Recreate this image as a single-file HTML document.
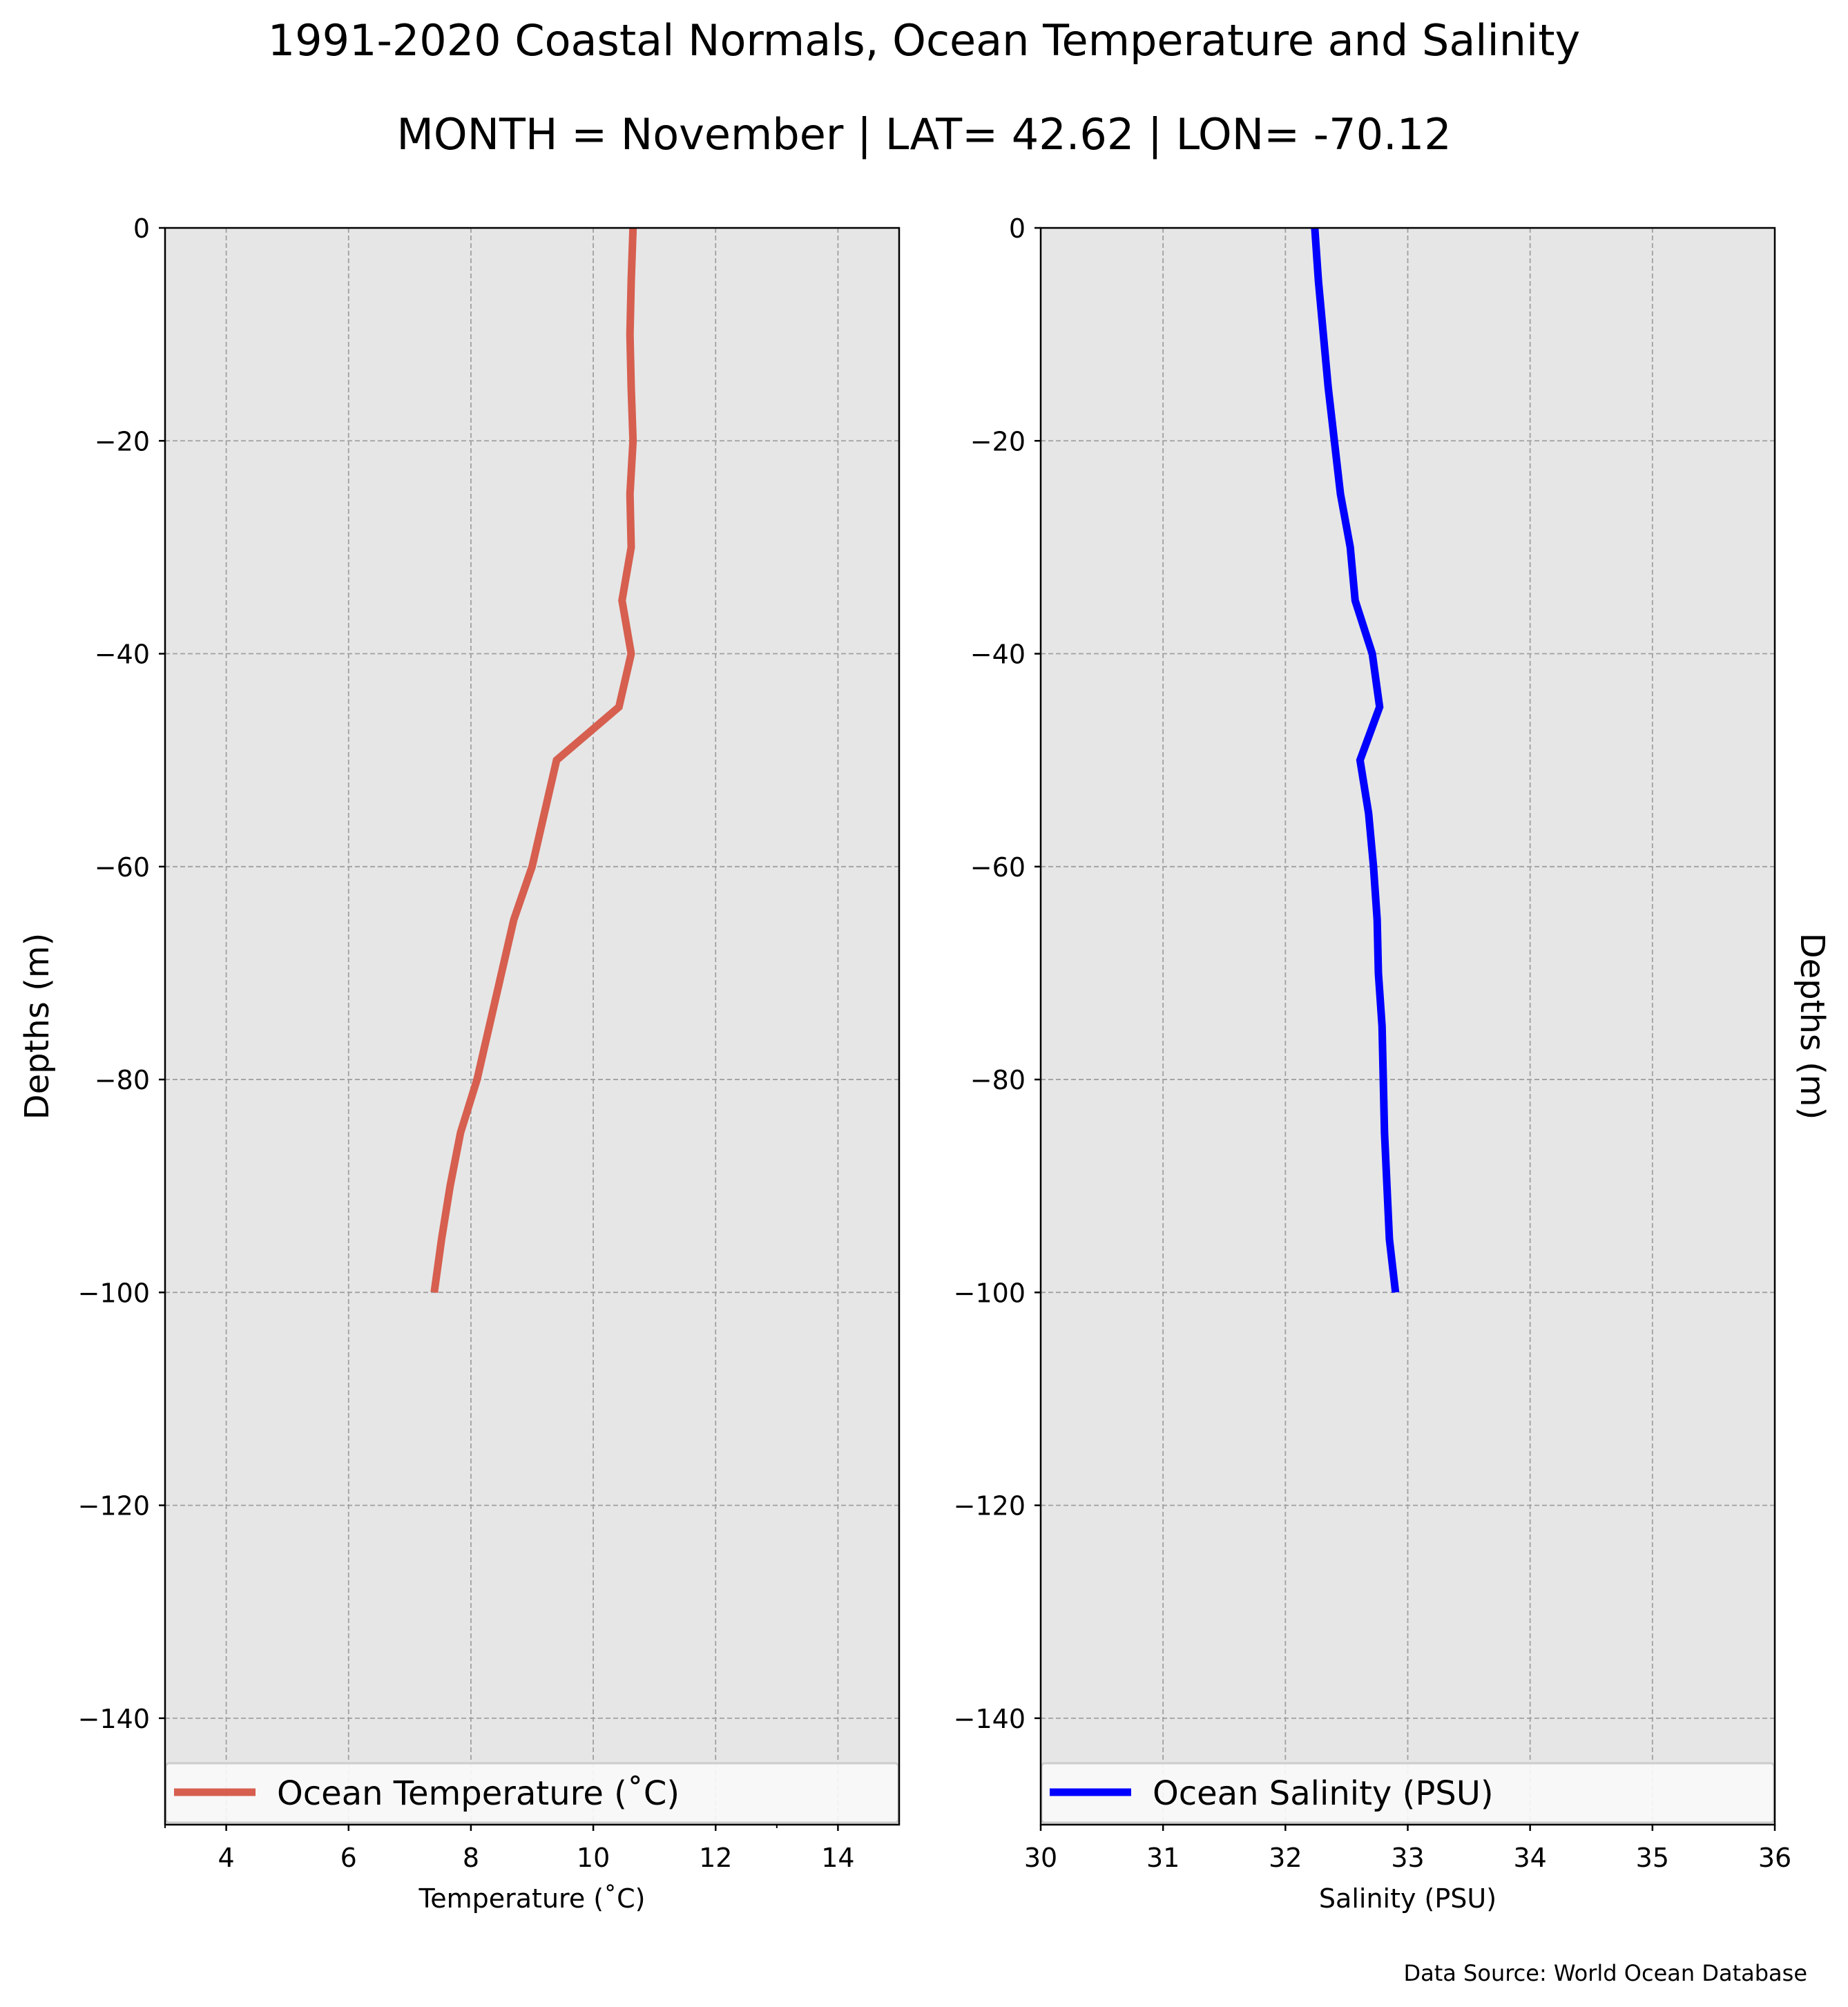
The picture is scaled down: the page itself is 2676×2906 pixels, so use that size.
<!DOCTYPE html>
<html><head><meta charset="utf-8"><style>
body{margin:0;background:#fff;}
svg text{font-family:"DejaVu Sans","Liberation Sans",sans-serif;fill:#000;}
</style></head><body>
<svg id="chart" width="2676" height="2901" viewBox="0 0 2676 2901" xmlns="http://www.w3.org/2000/svg">
<text x="1338" y="80" font-size="62" text-anchor="middle">1991-2020 Coastal Normals, Ocean Temperature and Salinity</text>
<text x="1338" y="216" font-size="62" text-anchor="middle">MONTH = November | LAT= 42.62 | LON= -70.12</text>
<text x="2617" y="2868" font-size="32" text-anchor="end">Data Source: World Ocean Database</text>
<g id="left"></g>
<g id="right"></g>
</svg>
<script>
const depths=[0,-5,-10,-15,-20,-25,-30,-35,-40,-45,-50,-55,-60,-65,-70,-75,-80,-85,-90,-95,-100];
const temperature=[10.65,10.62,10.6,10.62,10.65,10.6,10.62,10.47,10.62,10.42,9.4,9.2,9.0,8.7,8.5,8.3,8.1,7.83,7.66,7.52,7.4];
const salinity=[32.24,32.27,32.31,32.35,32.4,32.45,32.53,32.57,32.71,32.77,32.61,32.68,32.72,32.75,32.76,32.79,32.8,32.81,32.83,32.85,32.9];
const yTicks=[0,-20,-40,-60,-80,-100,-120,-140];
const tempTicks=[4,6,8,10,12,14];
const salTicks=[30,31,32,33,34,35,36];
const NS="http://www.w3.org/2000/svg";
function mk(p,t,a){const e=document.createElementNS(NS,t);for(const k in a)e.setAttribute(k,a[k]);p.appendChild(e);return e;}
const yTop=330,yBot=2642;
const yS=v=>yTop+(0-v)/150*(yBot-yTop);
function panel(g,x0,x1,xmin,xmax,xt,minor,vals,color,legend,xlabel,ylabSide){
  const xS=v=>x0+(v-xmin)/(xmax-xmin)*(x1-x0);
  let r=mk(g,'rect',{x:x0,y:yTop,width:x1-x0,height:yBot-yTop,fill:'#e6e6e6'});
  
  
  xt.forEach(v=>{let l=mk(g,'line',{x1:xS(v),x2:xS(v),y1:yTop,y2:yBot,stroke:'#a0a0a0','stroke-width':1.8,'stroke-dasharray':'7,4'});
    
    });
  yTicks.forEach(v=>{let l=mk(g,'line',{x1:x0,x2:x1,y1:yS(v),y2:yS(v),stroke:'#a0a0a0','stroke-width':1.8,'stroke-dasharray':'7,4'});
    
    });
  const pts=vals.map((v,i)=>xS(v)+','+yS(depths[i])).join(' ');
  let pl=mk(g,'polyline',{points:pts,fill:'none',stroke:color,'stroke-width':11,'stroke-linejoin':'miter'});
  
  
  let lg=mk(g,'g',{});
  
  
  mk(lg,'rect',{x:x0+1,y:2553,width:x1-x0-2,height:86,rx:5,fill:'#f9f9f9','fill-opacity':0.9,stroke:'#cccccc','stroke-width':3});
  mk(lg,'line',{x1:x0+13,x2:x0+131,y1:2595,y2:2595,stroke:color,'stroke-width':11});
  let lt=mk(lg,'text',{x:x0+162,y:2613,'font-size':48});lt.textContent=legend;
  
  
  mk(g,'rect',{x:x0,y:yTop,width:x1-x0,height:yBot-yTop,fill:'none',stroke:'#000','stroke-width':2.5});
  xt.forEach(v=>{mk(g,'line',{x1:xS(v),x2:xS(v),y1:yBot,y2:yBot+9,stroke:'#000','stroke-width':2.5});
    let t=mk(g,'text',{x:xS(v),y:2703,'font-size':38,'text-anchor':'middle'});t.textContent=v;
    
    });
  minor.forEach(v=>mk(g,'line',{x1:xS(v),x2:xS(v),y1:yBot,y2:yBot+5,stroke:'#000','stroke-width':2}));
  yTicks.forEach(v=>{mk(g,'line',{x1:x0-9,x2:x0,y1:yS(v),y2:yS(v),stroke:'#000','stroke-width':2.5});
    let t=mk(g,'text',{x:x0-22,y:yS(v)+14,'font-size':38,'text-anchor':'end'});t.textContent=v===0?'0':'\u2212'+Math.abs(v);
    
    });
  let xl=mk(g,'text',{x:(x0+x1)/2,y:2762,'font-size':38,'text-anchor':'middle'});xl.textContent=xlabel;
  
  
  let yl;
  if(ylabSide==='left'){yl=mk(g,'text',{x:0,y:0,'font-size':48,'text-anchor':'middle',transform:'translate(70,1486) rotate(-90)'});}
  else{yl=mk(g,'text',{x:0,y:0,'font-size':48,'text-anchor':'middle',transform:'translate(2608,1486) rotate(90)'});}
  yl.textContent='Depths (m)';
  
  
}
panel(document.getElementById('left'),239,1302,3,15,tempTicks,[3,13],temperature,'#d65f4f','Ocean Temperature (\u02daC)','Temperature (\u02daC)','left');
panel(document.getElementById('right'),1507,2570,30,36,salTicks,[],salinity,'#0000ff','Ocean Salinity (PSU)','Salinity (PSU)','right');
</script>
</body></html>
